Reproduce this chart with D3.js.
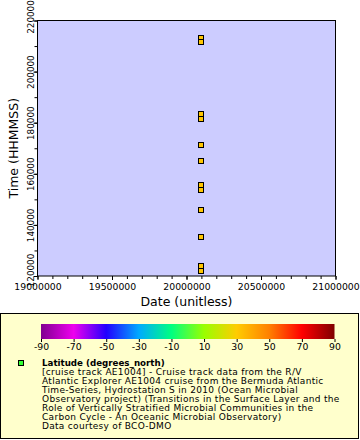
<!DOCTYPE html>
<html><head><meta charset="utf-8">
<script src="https://cdn.jsdelivr.net/npm/d3@7"></script>
<style>body{margin:0;background:#fff}svg{display:block}text{font-family:"DejaVu Sans",sans-serif}</style>
</head><body>
<svg id="c" width="360" height="440"></svg>
<script>
const dates = [20100317,20100317,20100317,20100317,20100317,20100317,20100317,20100317,20100317,20100317,20100317,20100317];
const times = [213300,211600,183500,181600,171300,165100,155600,153800,146000,135400,123800,122000];
const latitudes = [31.7,31.7,31.7,31.7,31.7,31.7,31.7,31.7,31.7,31.7,31.7,31.7];
const xTicks = [19000000,19500000,20000000,20500000,21000000];
const yTicks = [120000,140000,160000,180000,200000,220000];
const cbTicks = [-90,-70,-50,-30,-10,10,30,50,70,90];
const cbStops = [-90,-70,-50,-30,-10,10,30,50,70,90];
const cbColors = ["#800090","#ee00ee","#2200ff","#00aaff","#00ff80","#99ff00","#ffcc00","#ff8000","#ff0000","#800000"];
const legendTitle = "Latitude (degrees_north)";
const legendLines = [
 "[cruise track AE1004] - Cruise track data from the R/V",
 "Atlantic Explorer AE1004 cruise from the Bermuda Atlantic",
 "Time-Series, Hydrostation S in 2010 (Ocean Microbial",
 "Observatory project) (Transitions in the Surface Layer and the",
 "Role of Vertically Stratified Microbial Communities in the",
 "Carbon Cycle - An Oceanic Microbial Observatory)",
 "Data courtesy of BCO-DMO"
];

const svg = d3.select("#c");
const L=37.5, R=335.5, T=20.5, B=276;
const x = d3.scaleLinear().domain([19000000,21000000]).range([L,R]);
const y = d3.scaleLinear().domain([120000,220000]).range([B,T]);
const col = d3.scaleLinear().domain(cbStops).range(cbColors).clamp(true);

svg.append("rect").attr("x",L).attr("y",T).attr("width",R-L).attr("height",B-T).attr("fill","#ccccff");

const gx = svg.append("g").attr("transform",`translate(0,${B})`);
gx.call(d3.axisBottom(x).tickValues(d3.range(19000000,21000001,100000)).tickSize(3).tickFormat(""));
gx.select(".domain").remove();
const gx2 = svg.append("g").attr("transform",`translate(0,${B})`);
gx2.call(d3.axisBottom(x).tickValues(xTicks).tickSize(4).tickFormat(d3.format("d")));
gx2.select(".domain").remove();
gx2.selectAll("text").attr("y",7).attr("dy","0.71em").style("font-size","9.3px").style("font-family","DejaVu Sans");

const gy = svg.append("g").attr("transform",`translate(${L},0)`);
gy.call(d3.axisLeft(y).tickValues(d3.range(120000,220001,10000)).tickSize(3).tickFormat(""));
gy.select(".domain").remove();
const gy2 = svg.append("g").attr("transform",`translate(${L},0)`);
gy2.call(d3.axisLeft(y).tickValues(yTicks).tickSize(4).tickFormat(d3.format("d")));
gy2.select(".domain").remove();
gy2.selectAll(".tick text").attr("x",null).attr("dy",null)
  .attr("transform",d=>`translate(-4,${d===220000?-4:(d===120000?-6:0)}) rotate(-90)`).attr("text-anchor","middle").attr("y",0)
  .style("font-size","8.8px").style("font-family","DejaVu Sans");
svg.selectAll(".tick line").attr("stroke","#000");

svg.append("rect").attr("x",L).attr("y",T).attr("width",R-L).attr("height",B-T).attr("fill","none").attr("stroke","#000").attr("stroke-width",1);

svg.append("text").attr("x",(L+R)/2).attr("y",306).attr("text-anchor","middle").style("font-size","12.5px").text("Date (unitless)");
svg.append("text").attr("transform",`translate(18,${(T+B)/2}) rotate(-90)`).attr("text-anchor","middle").style("font-size","12.5px").text("Time (HHMMSS)");

svg.append("g").selectAll("rect").data(dates).join("rect")
  .attr("x",(d,i)=>Math.round(x(d))-2.5).attr("y",(d,i)=>Math.round(y(times[i]))-2.5)
  .attr("width",5).attr("height",5).attr("fill",(d,i)=>col(latitudes[i])).attr("stroke","#000").attr("stroke-width",1);

svg.append("rect").attr("x",0.5).attr("y",313.5).attr("width",358).attr("height",125).attr("fill","#ffffcc").attr("stroke","#000");
const cbL=41, cbR=334.5, cbT=324, cbB=339;
const cbx = d3.scaleLinear().domain([-90,90]).range([cbL,cbR]);
const grad = svg.append("defs").append("linearGradient").attr("id","g1");
cbStops.forEach((s,i)=>grad.append("stop").attr("offset",(s+90)/180).attr("stop-color",cbColors[i]));
svg.append("rect").attr("x",cbL).attr("y",cbT).attr("width",cbR-cbL).attr("height",cbB-cbT).attr("fill","url(#g1)");
const gc = svg.append("g").attr("transform",`translate(0,${cbB})`);
gc.call(d3.axisBottom(cbx).tickValues(cbTicks).tickSize(3).tickFormat(d3.format("d")));
gc.select(".domain").remove();
gc.selectAll("text").attr("y",4).attr("dy","0.71em").style("font-size","9.3px").style("font-family","DejaVu Sans").text(d=>d<0?"-"+Math.abs(d):d);
gc.selectAll("line").attr("stroke","#000");

svg.append("rect").attr("x",18.5).attr("y",360.5).attr("width",5).attr("height",5).attr("fill","#33ff33").attr("stroke","#000");
svg.append("text").attr("x",42).attr("y",365.5).style("font-size","8.7px").style("font-weight","bold").text(legendTitle);
svg.append("g").selectAll("text").data(legendLines).join("text")
  .attr("x",42).attr("y",(d,i)=>374.7+i*9.1).style("font-size","9px").style("letter-spacing","0.3px").text(d=>d);
</script>
</body></html>
